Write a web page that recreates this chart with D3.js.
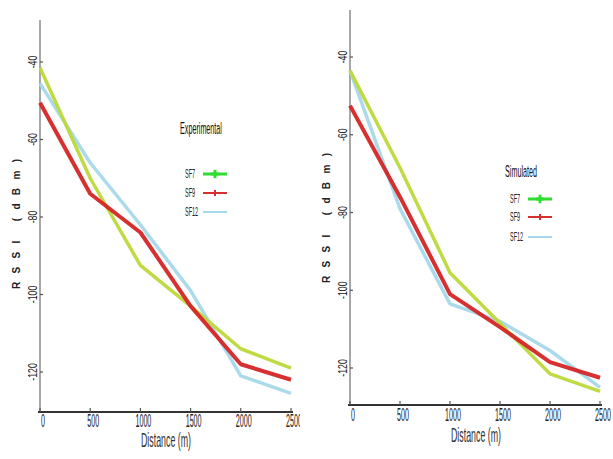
<!DOCTYPE html>
<html><head><meta charset="utf-8">
<script src="https://cdn.jsdelivr.net/npm/d3@7"></script>
<style>body{margin:0;background:#fff}svg{display:block}text{font-family:"Liberation Sans",Arial,sans-serif}</style>
</head><body>
<script>
const distances = [0, 500, 1000, 1500, 2000, 2500];
const xTicks = [0, 500, 1000, 1500, 2000, 2500];
const yTicks = [-40, -60, -80, -100, -120];
const seriesNames = ["SF7", "SF9", "SF12"];
const expSF7 = [-41.5, -70, -92.5, -103, -114, -119];
const expSF9 = [-50.5, -74, -84, -103, -118, -122];
const expSF12 = [-45.5, -66, -82, -99, -121, -125.5];
const simSF7 = [-43.5, -68.5, -95.5, -108.5, -121.5, -126];
const simSF9 = [-52.5, -76, -101, -109.5, -118.5, -122.5];
const simSF12 = [-43.5, -79, -103.5, -108, -115.5, -125];
const lineColors = ["#bcd93a", "#d42525", "#a6d8ea"];
const legendColors = ["#2fdc2f", "#d43030", "#a6d8ea"];

const W = 613, H = 459;
const svg = d3.select("body").append("svg").attr("width", W).attr("height", H);

const panels = [
  {title: "Experimental", data: [expSF7, expSF9, expSF12], clipX: 0, clipW: 300,
   x0: 40, x1: 291, yTop: 20, yBot: 412, y40: 62, y120: 372,
   ylabX: 20, ylabY: 224, xlabX: 166, xlabY: 447, tickLabY: 427,
   legX: 180, legTitleY: 134, legYs: [174, 193, 212]},
  {title: "Simulated", data: [simSF7, simSF9, simSF12], clipX: 300, clipW: 313,
   x0: 350, x1: 600, yTop: 10, yBot: 405, y40: 57, y120: 368,
   ylabX: 330, ylabY: 218, xlabX: 476, xlabY: 442, tickLabY: 421,
   legX: 505, legTitleY: 177, legYs: [199, 217, 237]}
];

panels.forEach((p, i) => {
  const clipId = "clip" + i;
  svg.append("clipPath").attr("id", clipId).append("rect")
    .attr("x", p.clipX).attr("y", 0).attr("width", p.clipW).attr("height", H);
  const g = svg.append("g").attr("clip-path", `url(#${clipId})`);

  const x = d3.scaleLinear().domain([0, 2500]).range([p.x0, p.x1]);
  const y = d3.scaleLinear().domain([-40, -120]).range([p.y40, p.y120]);

  // y axis line
  g.append("line").attr("x1", p.x0).attr("x2", p.x0).attr("y1", p.yTop).attr("y2", p.yBot)
    .attr("stroke", "#8a8a8a").attr("stroke-width", 1.5);
  // x axis line
  g.append("line").attr("x1", p.x0 - 2).attr("x2", p.x1 + 2).attr("y1", p.yBot).attr("y2", p.yBot)
    .attr("stroke", "#333").attr("stroke-width", 2);

  // y ticks
  yTicks.forEach(t => {
    g.append("line").attr("x1", p.x0).attr("x2", p.x0 + 3).attr("y1", y(t)).attr("y2", y(t))
      .attr("stroke", "#555").attr("stroke-width", 1.2);
    g.append("text").attr("transform", `translate(${p.x0 - 3},${y(t)}) rotate(-90) scale(0.8,1.15)`)
      .attr("text-anchor", "middle").attr("font-size", 11).attr("fill", "#222").text(t);
  });
  // x ticks
  xTicks.forEach(t => {
    g.append("line").attr("x1", x(t)).attr("x2", x(t)).attr("y1", p.yBot).attr("y2", p.yBot - 4)
      .attr("stroke", "#555").attr("stroke-width", 1.2);
    g.append("text").attr("transform", `translate(${x(t) + 3},${p.tickLabY}) scale(0.55,1.4)`)
      .attr("text-anchor", "middle").attr("font-size", 13).attr("fill", "#222").text(t);
  });

  // axis titles
  g.append("text").attr("transform", `translate(${p.ylabX},${p.ylabY}) rotate(-90)`)
    .attr("text-anchor", "middle").attr("font-size", 10).attr("font-weight", "bold").attr("fill", "#222")
    .attr("textLength", 130).attr("lengthAdjust", "spacing").text("RSSI (dBm)");
  g.append("text").attr("transform", `translate(${p.xlabX},${p.xlabY}) scale(0.68,1.55)`)
    .attr("text-anchor", "middle").attr("font-size", 13).attr("fill", "#333").text("Distance (m)");

  // lines
  const line = d3.line().x((d, j) => x(distances[j])).y(d => y(d));
  const widths = [3.5, 4, 3.5];
  const order = [2, 0, 1];
  order.forEach(k => {
    g.append("path").datum(p.data[k]).attr("d", line).attr("fill", "none")
      .attr("stroke", lineColors[k]).attr("stroke-width", widths[k])
      .attr("stroke-linejoin", "round").attr("opacity", 0.95);
  });

  // legend
  g.append("text").attr("transform", `translate(${p.legX},${p.legTitleY}) scale(0.6,1.4)`)
    .attr("font-size", 12).attr("fill", "#111").text(p.title);
  seriesNames.forEach((n, k) => {
    const ly = p.legYs[k];
    g.append("text").attr("transform", `translate(${p.legX + 5},${ly + 4}) scale(0.55,1.3)`)
      .attr("font-size", 10).attr("fill", "#222").text(n);
    const lx = p.legX + 23;
    g.append("line").attr("x1", lx).attr("x2", lx + 24).attr("y1", ly).attr("y2", ly)
      .attr("stroke", legendColors[k]).attr("stroke-width", k === 0 ? 3 : 2);
    if (k < 2) {
      g.append("path").attr("d", d3.symbol().type(d3.symbolCross).size(k === 0 ? 40 : 20)())
        .attr("transform", `translate(${lx + 12},${ly})`).attr("fill", legendColors[k]);
    }
  });
});
</script>
</body></html>
